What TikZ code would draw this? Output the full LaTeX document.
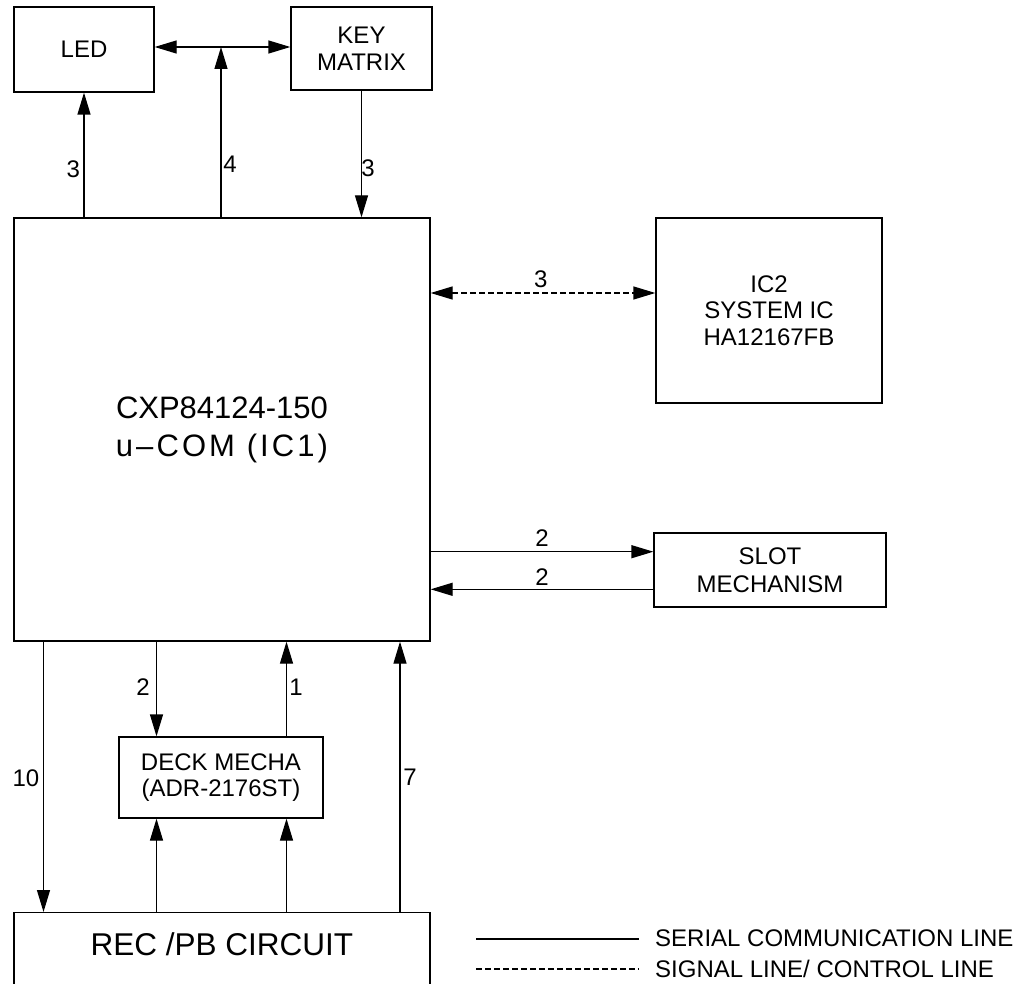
\documentclass[tikz,border=0pt]{standalone}
\usepackage{fontspec}
\setmainfont{Liberation Sans}
\usetikzlibrary{arrows.meta}
\begin{document}
\begin{tikzpicture}[x=1pt,y=-1pt,
  box/.style={draw, line width=1.3pt, inner sep=0pt, align=center, font=\fontsize{24}{26.5}\selectfont},
  conn/.style={line width=1.3pt},
  tip/.style={-{Triangle[length=22pt,width=13pt]}},
  dtip/.style={{Triangle[length=22pt,width=13pt]}-{Triangle[length=22pt,width=13pt]}},
  sig/.style={dash pattern=on 6pt off 3pt},
  lbl/.style={font=\fontsize{24}{26}\selectfont, anchor=base, inner sep=0pt},
  legtext/.style={font=\fontsize{24}{26}\selectfont, anchor=base west, inner sep=0pt}
]
\useasboundingbox (0,0) rectangle (1028,984);
\clip (0,0) rectangle (1028,984);

% boxes
\node[box, minimum width=140pt, minimum height=85pt] (led) at (84,49.5) {LED};
\node[box, minimum width=141pt, minimum height=83pt] (key) at (361.5,48.5) {KEY\\MATRIX};
\node[box, minimum width=416pt, minimum height=423pt, font=\fontsize{31}{38}\selectfont] (main) at (222,429.5)
  {CXP84124-150\\{\addfontfeature{LetterSpace=10}u\textendash COM (IC1)}};
\node[box, minimum width=226pt, minimum height=185pt] (ic2) at (769,310.5) {IC2\\SYSTEM IC\\HA12167FB};
\node[box, minimum width=232pt, minimum height=74pt, font=\fontsize{24}{28.5}\selectfont] (slot) at (770,570) {SLOT\\MECHANISM};
\node[box, minimum width=204pt, minimum height=81pt] (deck) at (221,777.5) {DECK MECHA\\(ADR-2176ST)};
\node[box, anchor=north, minimum width=416pt, text height=43pt, text depth=45pt, font=\fontsize{31.5}{36}\selectfont] (rec) at (222,912) {REC /PB CIRCUIT};

% helper coordinates
\coordinate (jct) at (221,47);
\coordinate (xa) at (43.5,0);
\coordinate (dl) at (156.5,0);
\coordinate (dr) at (286.5,0);
\coordinate (x7) at (400,0);

% top connectors
\draw[conn,tip] (main.north -| led.south) -- (led.south);
\draw[conn,tip] (key.south) -- (key.south |- main.north);
\draw[conn,dtip] (jct -| led.east) -- (jct -| key.west);
\draw[conn,tip] (main.north -| jct) -- (jct);

% IC2
\draw[conn,sig,dtip] ([yshift=17.5pt]ic2.west -| main.east) -- ([yshift=17.5pt]ic2.west);

% slot
\draw[conn,tip] ([yshift=18.3pt]slot.west -| main.east) -- ([yshift=18.3pt]slot.west);
\draw[conn,tip] ([yshift=-19.3pt]slot.west) -- ([yshift=-19.3pt]slot.west -| main.east);

% bottom
\draw[conn,tip] (main.south -| xa) -- (rec.north -| xa);
\draw[conn,tip] (main.south -| dl) -- (deck.north -| dl);
\draw[conn,tip] (deck.north -| dr) -- (main.south -| dr);
\draw[conn,tip] (rec.north -| dl) -- (deck.south -| dl);
\draw[conn,tip] (rec.north -| dr) -- (deck.south -| dr);
\draw[conn,tip] (rec.north -| x7) -- (main.south -| x7);

% labels
\node[lbl] (n1) at (73.3,178) {3};
\node[lbl] (n2) at (230,173) {4};
\node[lbl] (n3) at (368,176.7) {3};
\node[lbl] (n4) at (540.7,288) {3};
\node[lbl] (n5) at (542,546.7) {2};
\node[lbl] (n6) at (542,585) {2};
\node[lbl] (n7) at (26,786) {10};
\node[lbl] (n8) at (143,695) {2};
\node[lbl] (n9) at (296,695) {1};
\node[lbl] (n10) at (410,785) {7};

% legend
\coordinate (ls1) at (476,939);
\coordinate (le1) at (639,939);
\coordinate (ls2) at (476,969);
\coordinate (le2) at (639,969);
\draw[line width=1.3pt] (ls1) -- (le1);
\draw[line width=1.3pt, sig] (ls2) -- (le2);
\node[legtext] (leg1) at (655,946.7) {SERIAL COMMUNICATION LINE};
\node[legtext] (leg2) at (655,977) {SIGNAL LINE/ CONTROL LINE};
\end{tikzpicture}
\end{document}
